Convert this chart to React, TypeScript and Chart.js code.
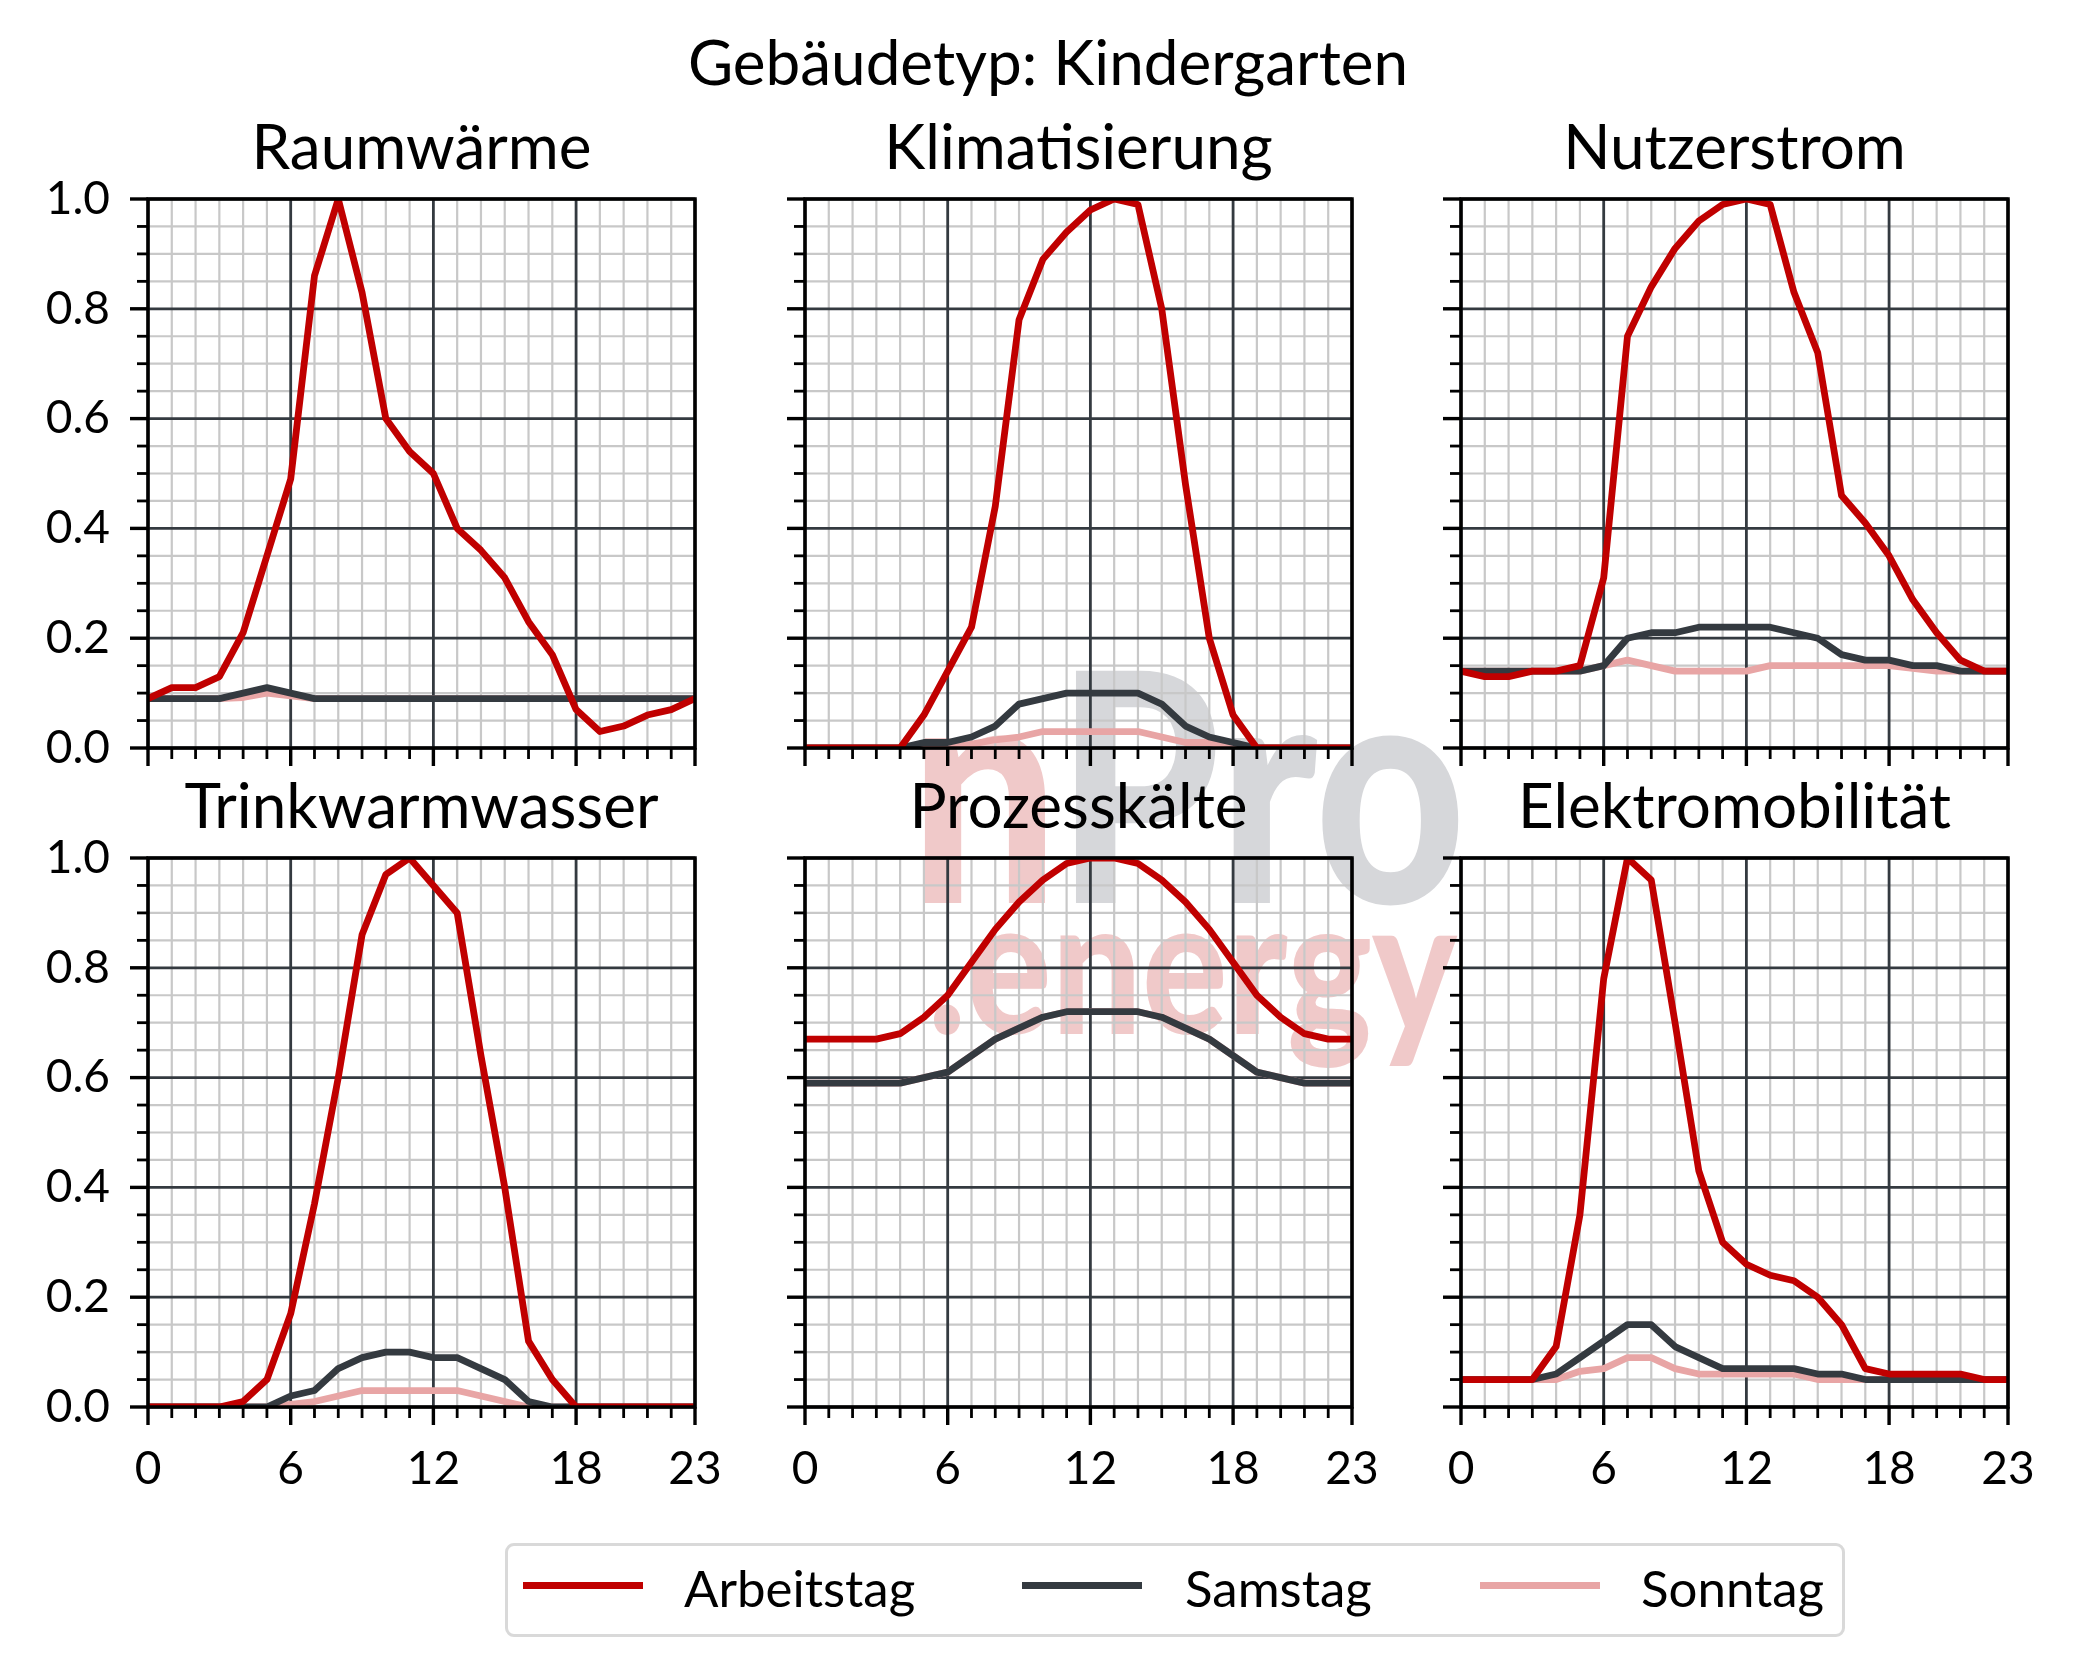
import React, { useEffect, useRef } from 'react';
import { Chart, registerables } from 'chart.js';

Chart.register(...registerables);

// ---------- data ----------
const HOURS = [0, 1, 2, 3, 4, 5, 6, 7, 8, 9, 10, 11, 12, 13, 14, 15, 16, 17, 18, 19, 20, 21, 22, 23];
const X_MAJOR = [0, 6, 12, 18, 23];
const Y_GRID = [0, 0.05, 0.1, 0.15, 0.2, 0.25, 0.3, 0.35, 0.4, 0.45, 0.5, 0.55, 0.6, 0.65, 0.7, 0.75, 0.8, 0.85, 0.9, 0.95, 1.0];
const Y_MAJOR = [0, 0.2, 0.4, 0.6, 0.8, 1.0];

const SUPTITLE = 'Gebäudetyp: Kindergarten';
const SERIES_NAMES = ['Arbeitstag', 'Samstag', 'Sonntag'];
const PANEL_TITLES = ['Raumwärme', 'Klimatisierung', 'Nutzerstrom', 'Trinkwarmwasser', 'Prozesskälte', 'Elektromobilität'];

const raumwaermeArbeitstag = [0.09, 0.11, 0.11, 0.13, 0.21, 0.35, 0.49, 0.86, 1.0, 0.83, 0.6, 0.54, 0.5, 0.4, 0.36, 0.31, 0.23, 0.17, 0.07, 0.03, 0.04, 0.06, 0.07, 0.09];
const raumwaermeSamstag = [0.09, 0.09, 0.09, 0.09, 0.1, 0.11, 0.1, 0.09, 0.09, 0.09, 0.09, 0.09, 0.09, 0.09, 0.09, 0.09, 0.09, 0.09, 0.09, 0.09, 0.09, 0.09, 0.09, 0.09];
const raumwaermeSonntag = [0.09, 0.09, 0.09, 0.09, 0.092, 0.1, 0.095, 0.09, 0.09, 0.09, 0.09, 0.09, 0.09, 0.09, 0.09, 0.09, 0.09, 0.09, 0.09, 0.09, 0.09, 0.09, 0.09, 0.09];

const klimaArbeitstag = [0, 0, 0, 0, 0, 0.06, 0.14, 0.22, 0.44, 0.78, 0.89, 0.94, 0.98, 1.0, 0.99, 0.8, 0.48, 0.2, 0.06, 0, 0, 0, 0, 0];
const klimaSamstag = [0, 0, 0, 0, 0, 0.01, 0.01, 0.02, 0.04, 0.08, 0.09, 0.1, 0.1, 0.1, 0.1, 0.08, 0.04, 0.02, 0.01, 0, 0, 0, 0, 0];
const klimaSonntag = [0, 0, 0, 0, 0, 0, 0, 0.007, 0.015, 0.02, 0.03, 0.03, 0.03, 0.03, 0.03, 0.02, 0.01, 0.01, 0, 0, 0, 0, 0, 0];

const nutzerArbeitstag = [0.14, 0.13, 0.13, 0.14, 0.14, 0.15, 0.31, 0.75, 0.84, 0.91, 0.96, 0.99, 1.0, 0.99, 0.83, 0.72, 0.46, 0.41, 0.35, 0.27, 0.21, 0.16, 0.14, 0.14];
const nutzerSamstag = [0.14, 0.14, 0.14, 0.14, 0.14, 0.14, 0.15, 0.2, 0.21, 0.21, 0.22, 0.22, 0.22, 0.22, 0.21, 0.2, 0.17, 0.16, 0.16, 0.15, 0.15, 0.14, 0.14, 0.14];
const nutzerSonntag = [0.14, 0.14, 0.14, 0.14, 0.14, 0.14, 0.15, 0.16, 0.15, 0.14, 0.14, 0.14, 0.14, 0.15, 0.15, 0.15, 0.15, 0.15, 0.15, 0.145, 0.14, 0.14, 0.14, 0.14];

const trinkArbeitstag = [0, 0, 0, 0, 0.01, 0.05, 0.17, 0.37, 0.6, 0.86, 0.97, 1.0, 0.95, 0.9, 0.64, 0.4, 0.12, 0.05, 0, 0, 0, 0, 0, 0];
const trinkSamstag = [0, 0, 0, 0, 0, 0, 0.02, 0.03, 0.07, 0.09, 0.1, 0.1, 0.09, 0.09, 0.07, 0.05, 0.01, 0, 0, 0, 0, 0, 0, 0];
const trinkSonntag = [0, 0, 0, 0, 0, 0, 0.005, 0.01, 0.02, 0.03, 0.03, 0.03, 0.03, 0.03, 0.02, 0.01, 0, 0, 0, 0, 0, 0, 0, 0];

const prozessArbeitstag = [0.67, 0.67, 0.67, 0.67, 0.68, 0.71, 0.75, 0.81, 0.87, 0.92, 0.96, 0.99, 1.0, 1.0, 0.99, 0.96, 0.92, 0.87, 0.81, 0.75, 0.71, 0.68, 0.67, 0.67];
const prozessSamstag = [0.59, 0.59, 0.59, 0.59, 0.59, 0.6, 0.61, 0.64, 0.67, 0.69, 0.71, 0.72, 0.72, 0.72, 0.72, 0.71, 0.69, 0.67, 0.64, 0.61, 0.6, 0.59, 0.59, 0.59];
const prozessSonntag = [0.59, 0.59, 0.59, 0.59, 0.59, 0.6, 0.61, 0.64, 0.67, 0.69, 0.71, 0.72, 0.72, 0.72, 0.72, 0.71, 0.69, 0.67, 0.64, 0.61, 0.6, 0.59, 0.59, 0.59];

const emobArbeitstag = [0.05, 0.05, 0.05, 0.05, 0.11, 0.35, 0.78, 1.0, 0.96, 0.7, 0.43, 0.3, 0.26, 0.24, 0.23, 0.2, 0.15, 0.07, 0.06, 0.06, 0.06, 0.06, 0.05, 0.05];
const emobSamstag = [0.05, 0.05, 0.05, 0.05, 0.06, 0.09, 0.12, 0.15, 0.15, 0.11, 0.09, 0.07, 0.07, 0.07, 0.07, 0.06, 0.06, 0.05, 0.05, 0.05, 0.05, 0.05, 0.05, 0.05];
const emobSonntag = [0.05, 0.05, 0.05, 0.05, 0.05, 0.065, 0.07, 0.09, 0.09, 0.07, 0.06, 0.06, 0.06, 0.06, 0.06, 0.05, 0.05, 0.05, 0.05, 0.05, 0.05, 0.05, 0.05, 0.05];

const PANEL_SERIES = [
  [raumwaermeArbeitstag, raumwaermeSamstag, raumwaermeSonntag],
  [klimaArbeitstag, klimaSamstag, klimaSonntag],
  [nutzerArbeitstag, nutzerSamstag, nutzerSonntag],
  [trinkArbeitstag, trinkSamstag, trinkSonntag],
  [prozessArbeitstag, prozessSamstag, prozessSonntag],
  [emobArbeitstag, emobSamstag, emobSonntag],
];

// ---------- style / layout ----------
const FONT = "Lato, 'Open Sans', sans-serif";
const SERIES_COLORS = ['#c00000', '#343a40', '#e8a5a5'];
const MAJOR_GRID = '#343a40';
const MINOR_GRID = '#c8c8c8';
const LINE_W = 6.8;

const COL_LEFT = [148, 805, 1461];
const ROW_TOP = [199, 858];
const PLOT_W = 547;
const PLOT_H = 549;
const AXIS_W = 130;
const TITLE_H = 100;
const XAXIS_H = 90;
const PAD_R = 40;

const isIn = (arr: number[], v: number) => arr.some((m) => Math.abs(m - v) < 1e-9);

const framePlugin = {
  id: 'frame',
  beforeDatasetsDraw(chart: any) {
    const { ctx, chartArea: a, scales } = chart;
    const xs = scales.x;
    const ys = scales.y;
    ctx.save();
    ctx.lineCap = 'butt';
    const vline = (v: number, color: string, w: number) => {
      const px = xs.getPixelForValue(v);
      ctx.strokeStyle = color;
      ctx.lineWidth = w;
      ctx.beginPath();
      ctx.moveTo(px, a.top);
      ctx.lineTo(px, a.bottom);
      ctx.stroke();
    };
    const hline = (v: number, color: string, w: number) => {
      const py = ys.getPixelForValue(v);
      ctx.strokeStyle = color;
      ctx.lineWidth = w;
      ctx.beginPath();
      ctx.moveTo(a.left, py);
      ctx.lineTo(a.right, py);
      ctx.stroke();
    };
    HOURS.filter((h) => !isIn(X_MAJOR, h)).forEach((h) => vline(h, MINOR_GRID, 2.2));
    Y_GRID.filter((v) => !isIn(Y_MAJOR, v)).forEach((v) => hline(v, MINOR_GRID, 2.2));
    X_MAJOR.forEach((h) => vline(h, MAJOR_GRID, 2.8));
    Y_MAJOR.forEach((v) => hline(v, MAJOR_GRID, 2.8));
    ctx.restore();
  },
  afterDraw(chart: any) {
    const { ctx, chartArea: a, scales } = chart;
    const xs = scales.x;
    const ys = scales.y;
    ctx.save();
    ctx.strokeStyle = '#000';
    ctx.lineCap = 'butt';
    HOURS.forEach((h) => {
      const major = isIn(X_MAJOR, h);
      const px = xs.getPixelForValue(h);
      ctx.lineWidth = major ? 3.4 : 2.8;
      ctx.beginPath();
      ctx.moveTo(px, a.bottom);
      ctx.lineTo(px, a.bottom + (major ? 18 : 11));
      ctx.stroke();
    });
    Y_GRID.forEach((v) => {
      const major = isIn(Y_MAJOR, v);
      const py = ys.getPixelForValue(v);
      ctx.lineWidth = major ? 3.4 : 2.8;
      ctx.beginPath();
      ctx.moveTo(a.left, py);
      ctx.lineTo(a.left - (major ? 18 : 11), py);
      ctx.stroke();
    });
    ctx.lineWidth = 3.5;
    ctx.lineJoin = 'miter';
    ctx.strokeRect(a.left, a.top, a.right - a.left, a.bottom - a.top);
    ctx.restore();
  },
};

const zeroPad = (s: any) => {
  s.paddingLeft = 0;
  s.paddingRight = 0;
  s.paddingTop = 0;
  s.paddingBottom = 0;
};

function Panel({ idx }: { idx: number }) {
  const ref = useRef<HTMLCanvasElement>(null);
  const col = idx % 3;
  const row = Math.floor(idx / 3);
  const w = AXIS_W + PLOT_W + PAD_R;
  const h = TITLE_H + PLOT_H + XAXIS_H;

  useEffect(() => {
    const chart = new Chart(ref.current as HTMLCanvasElement, {
      type: 'line',
      data: {
        labels: HOURS,
        datasets: SERIES_NAMES.map((name, i) => ({
          label: name,
          data: PANEL_SERIES[idx][i],
          borderColor: SERIES_COLORS[i],
          backgroundColor: SERIES_COLORS[i],
          borderWidth: LINE_W,
          pointRadius: 0,
          tension: 0,
          fill: false,
          borderJoinStyle: 'round',
        })),
      },
      options: {
        animation: false,
        responsive: false,
        events: [],
        layout: { padding: { left: 0, right: PAD_R, top: 0, bottom: 0 } },
        plugins: {
          legend: { display: false },
          tooltip: { enabled: false },
          title: {
            display: true,
            fullSize: false,
            text: PANEL_TITLES[idx],
            color: '#000',
            font: { family: FONT, size: 62, weight: 'normal', lineHeight: 1.2 },
            padding: { top: 12.6, bottom: 13 },
          },
        },
        scales: {
          x: {
            type: 'linear',
            min: 0,
            max: 23,
            grid: { display: false, drawTicks: false },
            border: { display: false },
            afterFit: (s: any) => {
              s.height = XAXIS_H;
              zeroPad(s);
            },
            ticks: {
              stepSize: 1,
              autoSkip: false,
              maxRotation: 0,
              minRotation: 0,
              padding: 35,
              color: '#000',
              font: { family: FONT, size: 46 },
              callback: (v: any) => (row === 1 && isIn(X_MAJOR, Number(v)) ? String(v) : ''),
            },
          },
          y: {
            type: 'linear',
            min: 0,
            max: 1,
            grid: { display: false, drawTicks: false },
            border: { display: false },
            afterFit: (s: any) => {
              s.width = AXIS_W;
              zeroPad(s);
            },
            ticks: {
              stepSize: 0.05,
              autoSkip: false,
              padding: 38,
              color: '#000',
              font: { family: FONT, size: 46 },
              callback: (v: any) => (col === 0 && isIn(Y_MAJOR, Number(v)) ? Number(v).toFixed(1) : ''),
            },
          },
        },
      } as any,
      plugins: [framePlugin],
    });
    return () => chart.destroy();
  }, [idx]);

  return (
    <canvas
      ref={ref}
      width={w}
      height={h}
      style={{
        position: 'absolute',
        left: COL_LEFT[col] - AXIS_W,
        top: ROW_TOP[row] - TITLE_H,
        width: w,
        height: h,
      }}
    />
  );
}

const LEGEND_LINE_X = [523, 1022, 1480];
const LEGEND_TEXT_X = [684, 1185, 1641];

export default function App() {
  return (
    <div
      style={{
        position: 'absolute',
        left: 0,
        top: 0,
        width: 2077,
        height: 1678,
        background: '#fff',
        overflow: 'hidden',
        fontFamily: FONT,
      }}
    >
      {/* watermark (behind the plots) */}
      <div
        style={{
          position: 'absolute',
          left: 910,
          top: 619,
          fontSize: 320,
          lineHeight: 1,
          fontWeight: 900,
          whiteSpace: 'nowrap',
          transform: 'scaleX(0.82)',
          transformOrigin: 'left top',
        }}
      >
        <span style={{ color: '#f0c9c9' }}>n</span>
        <span style={{ color: '#d6d7da' }}>Pro</span>
      </div>
      <div
        style={{
          position: 'absolute',
          left: 928,
          top: 865,
          fontSize: 190,
          lineHeight: 1,
          fontWeight: 900,
          whiteSpace: 'nowrap',
          color: '#f0c9c9',
          transform: 'scaleX(0.84)',
          transformOrigin: 'left top',
        }}
      >
        .energy
      </div>

      {PANEL_TITLES.map((_, i) => (
        <Panel key={i} idx={i} />
      ))}

      <div
        style={{
          position: 'absolute',
          left: 1048,
          top: 30,
          transform: 'translateX(-50%)',
          fontSize: 62,
          lineHeight: 1,
          color: '#000',
          whiteSpace: 'nowrap',
        }}
      >
        {SUPTITLE}
      </div>

      {/* legend */}
      <div
        style={{
          position: 'absolute',
          left: 505,
          top: 1543,
          width: 1340,
          height: 94,
          boxSizing: 'border-box',
          border: '3px solid #d9d9d9',
          borderRadius: 9,
          background: '#fff',
        }}
      />
      {SERIES_NAMES.map((name, i) => (
        <React.Fragment key={name}>
          <div
            style={{
              position: 'absolute',
              left: LEGEND_LINE_X[i],
              top: 1582,
              width: 120,
              height: 7,
              background: SERIES_COLORS[i],
            }}
          />
          <div
            style={{
              position: 'absolute',
              left: LEGEND_TEXT_X[i],
              top: 1562,
              fontSize: 51,
              lineHeight: 1,
              color: '#000',
              whiteSpace: 'nowrap',
            }}
          >
            {name}
          </div>
        </React.Fragment>
      ))}
    </div>
  );
}
